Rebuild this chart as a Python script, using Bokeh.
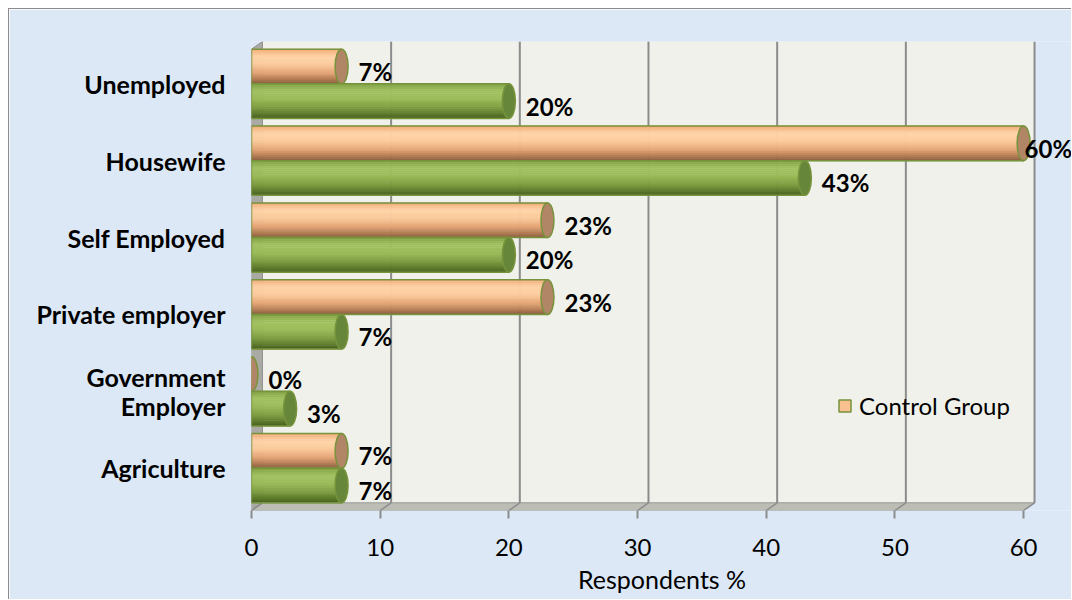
from bokeh.plotting import figure
from bokeh.models import FactorRange, Range1d, FixedTicker, ColumnDataSource, Legend, LegendItem
from bokeh.transform import dodge
from bokeh.core.properties import value
from bokeh.embed import file_html
from bokeh.resources import INLINE

# ---------------- data ----------------
categories = ["Unemployed", "Housewife", "Self Employed", "Private employer",
              "Government\nEmployer", "Agriculture"]
control_group = [7, 60, 23, 23, 0, 7]
study_group = [20, 43, 20, 7, 3, 7]
x_ticks = [0, 10, 20, 30, 40, 50, 60]
series_names = ["Control Group", "Study Group"]

# ---------------- style ----------------
FONT = "Lato"
BG = "#dce8f6"
BAR_H = 0.45          # height of one bar in category units
DEPTH_X = 0.85        # 3D depth offset (x units)
FLOOR_D = 0.1         # 3D depth offset (y units)
PAD = 0.05            # category range padding
OUTLINE = "#77933c"


def hex2rgb(h):
    h = h.lstrip("#")
    return [int(h[i:i + 2], 16) for i in (0, 2, 4)]


def gradient(stops, t):
    for (t0, c0), (t1, c1) in zip(stops[:-1], stops[1:]):
        if t0 <= t <= t1:
            f = (t - t0) / (t1 - t0) if t1 > t0 else 0
            a, b = hex2rgb(c0), hex2rgb(c1)
            return "#%02x%02x%02x" % tuple(int(round(a[i] + (b[i] - a[i]) * f)) for i in range(3))
    return stops[-1][1]


orange_stops = [(0.0, "#f1ab78"), (0.22, "#ffd4a7"), (0.45, "#fccb9c"),
                (0.70, "#e3a374"), (0.88, "#b27b53"), (1.0, "#8a5e40")]
green_stops = [(0.0, "#7f9f42"), (0.22, "#a3c363"), (0.45, "#9bbb59"),
               (0.70, "#7d9c40"), (0.88, "#5d7a2b"), (1.0, "#486020")]
N_STRIPES = 18

p = figure(width=1063, height=591,
           x_range=Range1d(0, 63.8),
           y_range=FactorRange(factors=categories[::-1], range_padding=PAD,
                               range_padding_units="absolute"),
           output_backend="svg", toolbar_location=None,
           min_border_left=242, min_border_right=0,
           min_border_top=32, min_border_bottom=90)
p.styles = {"margin-left": "8px", "margin-top": "8px",
            "border-left": "1px solid #8c8c8c", "border-top": "1px solid #8c8c8c"}
p.background_fill_color = BG
p.border_fill_color = BG
p.outline_line_color = None
p.xgrid.visible = False
p.ygrid.visible = False

y_top = len(categories) + PAD
y_bot = -PAD
y_back = y_bot + FLOOR_D
x_max = x_ticks[-1]

# back wall
p.quad(left=[DEPTH_X], right=[x_max + DEPTH_X], bottom=[y_back], top=[y_top],
       fill_color="#eff1ea", line_color=None)
# left wall
p.patch(x=[0, 0, DEPTH_X, DEPTH_X], y=[y_bot, y_top - FLOOR_D, y_top, y_back],
        fill_color="#a9aaa4", line_color="#8f8f8f", line_width=1)
# floor
p.patch(x=[0, x_max, x_max + DEPTH_X, DEPTH_X], y=[y_bot, y_bot, y_back, y_back],
        fill_color="#bcbdb5", line_color="#9a9a96", line_width=1)
# grid lines on back wall and floor
n = len(x_ticks) - 1
p.segment(x0=[t + DEPTH_X for t in x_ticks[1:]], y0=[y_back] * n,
          x1=[t + DEPTH_X for t in x_ticks[1:]], y1=[y_top] * n,
          line_color="#8c8c8c", line_width=2)
p.segment(x0=x_ticks, y0=[y_bot] * len(x_ticks),
          x1=[t + DEPTH_X for t in x_ticks], y1=[y_back] * len(x_ticks),
          line_color="#8c8c8c", line_width=1.5)

src = ColumnDataSource(dict(
    cat=categories,
    ctrl=control_group,
    study=study_group,
    ctrl_lbl=[f"{v}%" for v in control_group],
    study_lbl=[f"{v}%" for v in study_group],
    ctrl_off=[17 if v < 58 else 1 for v in control_group],
    study_off=[17 if v < 58 else 1 for v in study_group],
))

specs = [("ctrl", "ctrl_lbl", "ctrl_off", BAR_H / 2, orange_stops, "#b08666"),
         ("study", "study_lbl", "study_off", -BAR_H / 2, green_stops, "#66863a")]

stripe_h = BAR_H / N_STRIPES
for fld, lbl, off, base, stops, capcol in specs:
    for k in range(N_STRIPES):
        t = (k + 0.5) / N_STRIPES
        col = gradient(stops, t)
        p.hbar(y=dodge("cat", base + BAR_H / 2 - t * BAR_H, range=p.y_range), left=0, right=fld,
               height=stripe_h, fill_color=col, line_color=col, line_width=0.6, source=src)
    p.hbar(y=dodge("cat", base, range=p.y_range), left=0, right=fld, height=BAR_H,
           fill_color=None, line_color=OUTLINE, line_width=1.5, source=src)
    p.ellipse(x=fld, y=dodge("cat", base, range=p.y_range), width=13, width_units="screen",
              height=BAR_H, fill_color=capcol, line_color=OUTLINE, line_width=1.5, source=src)
    p.text(x=fld, y=dodge("cat", base, range=p.y_range), text=lbl, x_offset=off, y_offset=5,
           text_baseline="middle", text_align="left", text_font=value(FONT),
           text_font_style="bold", text_font_size="24px", text_color="black", source=src)

# legend (Control Group only, as in the reference) -- hidden proxy renderer of the series
leg_r = p.hbar(y=dodge("cat", BAR_H / 2, range=p.y_range), left=0, right="ctrl", height=BAR_H,
               fill_color="#fbc08f", line_color=OUTLINE, line_width=1.5, source=src,
               visible=False)
legend = Legend(items=[LegendItem(label=series_names[0], renderers=[leg_r])],
                location=(586, 90), orientation="vertical",
                background_fill_alpha=0, border_line_color=None,
                inactive_fill_alpha=0,
                glyph_width=15, glyph_height=15, label_standoff=7,
                padding=0, margin=0, spacing=0,
                label_text_font=FONT, label_text_font_size="24px", label_text_color="black")
p.add_layout(legend)

# axes
xa = p.xaxis[0]
xa.ticker = FixedTicker(ticks=x_ticks)
xa.axis_line_color = None
xa.major_tick_in = 0
xa.major_tick_out = 8
xa.major_tick_line_color = "#8c8c8c"
xa.major_tick_line_width = 2
xa.minor_tick_line_color = None
xa.major_label_text_font = FONT
xa.major_label_text_font_size = "24px"
xa.major_label_text_color = "black"
xa.major_label_standoff = 20
xa.axis_label = "Respondents %"
xa.axis_label_text_font = FONT
xa.axis_label_text_font_size = "25px"
xa.axis_label_text_font_style = "normal"
xa.axis_label_text_color = "black"
xa.axis_label_standoff = 5

ya = p.yaxis[0]
ya.axis_line_color = None
ya.major_tick_line_color = None
ya.minor_tick_line_color = None
ya.major_label_text_font = FONT
ya.major_label_text_font_style = "bold"
ya.major_label_text_font_size = "25px"
ya.major_label_text_color = "black"
ya.major_label_text_line_height = 0.95
ya.major_label_standoff = 20

open("out.html", "w").write(file_html(p, INLINE))
